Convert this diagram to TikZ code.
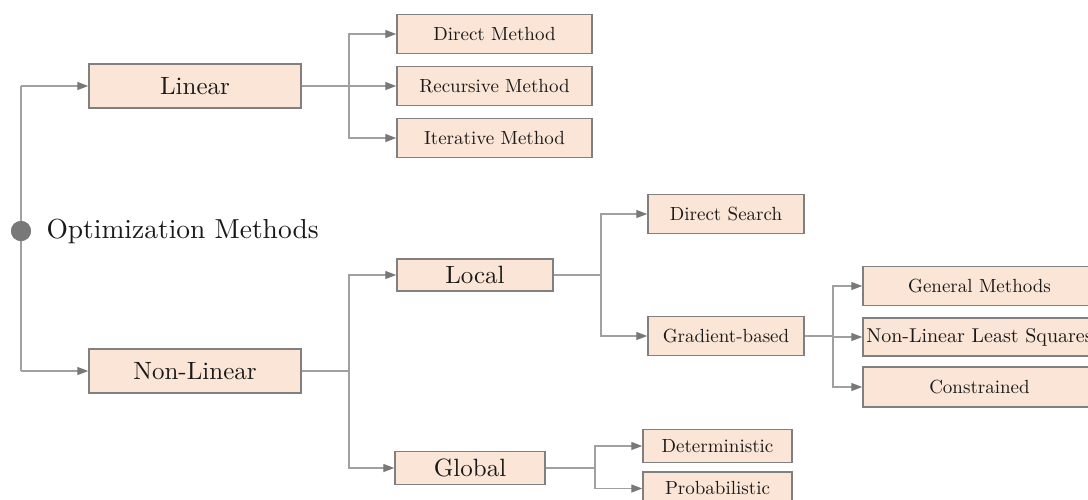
\documentclass[tikz,border=0pt]{standalone}
\usepackage{fontspec}
\setmainfont{lmroman10-regular}[Extension=.otf]
\usetikzlibrary{arrows.meta}
\definecolor{boxfill}{RGB}{251,229,214}
\definecolor{boxline}{RGB}{128,128,128}
\definecolor{wire}{RGB}{160,160,160}
\definecolor{tip}{RGB}{120,120,120}
\definecolor{ink}{RGB}{25,25,25}
\begin{document}
\begin{tikzpicture}[x=1pt,y=-1pt,
  box/.style={draw=boxline, fill=boxfill, line width=1.5pt, inner sep=0pt, text=ink},
  small/.style={box, font=\fontsize{19}{22}\selectfont},
  mid/.style={box, font=\fontsize{25}{28}\selectfont},
  wireline/.style={draw=wire, line width=1.3pt},
  arr/.style={wireline, -{Triangle[length=11pt,width=8pt,color=tip]}}]
\clip (0,0) rectangle (1088,499);
\fill[white] (0,0) rectangle (1088,499);

% root
\node[circle, fill=tip, minimum size=20pt, inner sep=0pt] (root) at (21,231) {};
\node[anchor=west, text=ink, font=\fontsize{27.5}{30}\selectfont] (title) at (43,231) {Optimization Methods};

% first level
\node[mid, minimum width=212pt, minimum height=44pt] (lin) at (195,86) {Linear};
\node[mid, minimum width=212pt, minimum height=44pt] (nlin) at (195,371) {Non-Linear};

% linear methods
\node[small, minimum width=195pt, minimum height=39pt] (dm) at (494.5,34) {Direct Method};
\node[small, minimum width=195pt, minimum height=39pt] (rm) at (494.5,86) {Recursive Method};
\node[small, minimum width=195pt, minimum height=39pt] (im) at (494.5,138) {Iterative Method};

% non-linear: local / global
\node[mid, minimum width=156pt, minimum height=32pt] (loc) at (475,275) {Local};
\node[mid, minimum width=150pt, minimum height=33pt] (glob) at (470,468) {Global};

% local methods
\node[small, minimum width=156pt, minimum height=39pt] (ds) at (726,214) {Direct Search};
\node[small, minimum width=156pt, minimum height=39pt] (gb) at (726,336) {Gradient-based};

% gradient-based methods
\node[small, minimum width=233pt, minimum height=39pt] (gm) at (979.5,286) {General Methods};
\node[small, minimum width=233pt, minimum height=38pt, font=\fontsize{20}{23}\selectfont] (nls) at (979.5,337) {Non-Linear Least Squares};
\node[small, minimum width=233pt, minimum height=40pt] (con) at (979.5,387) {Constrained};

% global methods
\node[small, minimum width=149pt, minimum height=33pt] (det) at (717.5,446) {Deterministic};
\node[small, minimum width=149pt, minimum height=33pt] (prob) at (717.5,488.5) {Probabilistic};

% branch points
\coordinate (rtop) at (21,86);
\coordinate (rbot) at (21,371);
\coordinate (jl) at (349,86);
\coordinate (jn) at (349,371);
\coordinate (jloc) at (601,275);
\coordinate (jgb) at (833,336);
\coordinate (jgl) at (595,468);

% root connectors
\draw[wireline] (rtop) -- (rbot);
\draw[arr] (rtop) -- (lin.west);
\draw[arr] (rbot) -- (nlin.west);
\node[circle, fill=tip, minimum size=20pt, inner sep=0pt] at (root) {};

% linear branch
\draw[wireline] (lin.east) -- (jl);
\draw[arr] (jl) |- (dm.west);
\draw[arr] (jl) -- (rm.west);
\draw[arr] (jl) |- (im.west);

% non-linear branch
\draw[wireline] (nlin.east) -- (jn);
\draw[arr] (jn) |- (loc.west);
\draw[arr] (jn) |- (glob.west);

% local branch
\draw[wireline] (loc.east) -- (jloc);
\draw[arr] (jloc) |- (ds.west);
\draw[arr] (jloc) |- (gb.west);

% gradient-based branch
\draw[wireline] (gb.east) -- (jgb);
\draw[arr] (jgb) |- (gm.west);
\draw[arr] (jgb) |- (nls.west);
\draw[arr] (jgb) |- (con.west);

% global branch
\draw[wireline] (glob.east) -- (jgl);
\draw[arr] (jgl) |- (det.west);
\draw[arr] (jgl) |- (prob.west);
\end{tikzpicture}
\end{document}
